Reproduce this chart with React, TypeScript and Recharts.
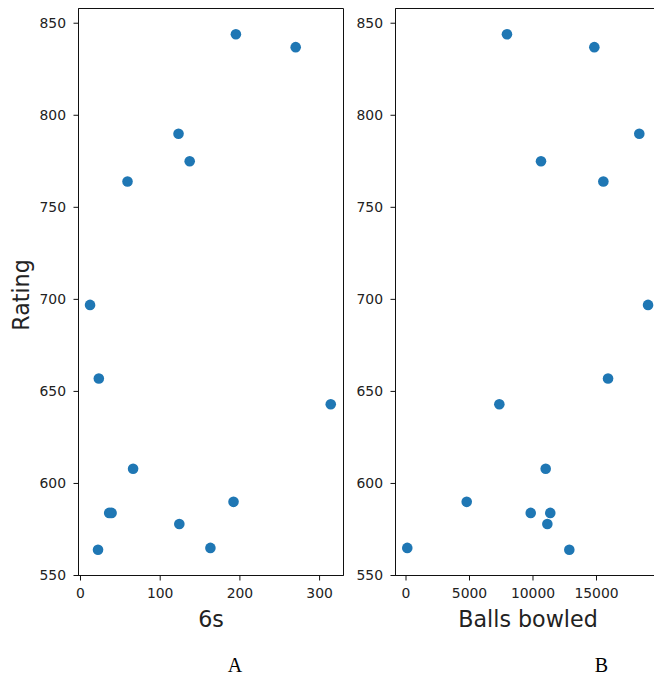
import React from 'react';
import { ScatterChart, Scatter, XAxis, YAxis, ReferenceArea } from 'recharts';

// ---- data ----
const ratings = [844, 837, 790, 775, 764, 697, 657, 643, 608, 590, 584, 584, 578, 565, 564];
const sixes = [195, 270, 123, 137, 59, 12, 23, 314, 66, 192, 36, 39, 124, 163, 22];
const ballsBowled = [7950, 14830, 18370, 10630, 15540, 19060, 15910, 7350, 11000, 4780, 9820, 11360, 11130, 100, 12860];

const ratingTicks = [550, 600, 650, 700, 750, 800, 850];
const sixesTicks = [0, 100, 200, 300];
const ballsTicks = [0, 5000, 10000, 15000];

const panelCaptions = ['A', 'B'];

const sixesData = ratings.map((r, i) => ({ x: sixes[i], y: r }));
const ballsData = ratings.map((r, i) => ({ x: ballsBowled[i], y: r }));

// ---- styling ----
const FONT = 'DejaVu Sans';
const TEXT = '#222';
const LINE = '#111';
const DOT = '#1f77b4';
const tickStyle = { fontSize: 13.9, fontFamily: FONT, fill: TEXT };

const Dot = (p: any) => <circle cx={p.cx} cy={p.cy} r={5.3} fill={DOT} />;

const RatingLabel = () => (
  <text
    x={28.5}
    y={295}
    transform="rotate(-90 28.5 295)"
    textAnchor="middle"
    fontSize={22.2}
    fontFamily={FONT}
    fill={TEXT}
  >
    Rating
  </text>
);

const Y_DOMAIN: [number, number] = [550, 858];

function Panel(props: {
  data: { x: number; y: number }[];
  xDomain: [number, number];
  xTicks: number[];
  xLabel: string;
  width: number;
  yAxisWidth: number;
  marginRight: number;
  left: number;
  showYLabel: boolean;
}) {
  const { data, xDomain, xTicks, xLabel, width, yAxisWidth, marginRight, left, showYLabel } = props;
  return (
    <div style={{ position: 'absolute', left, top: 0 }}>
      <ScatterChart
        width={width}
        height={640}
        margin={{ top: 8.5, right: marginRight, bottom: 0, left: 0 }}
      >
        <XAxis
          dataKey="x"
          type="number"
          domain={xDomain}
          allowDataOverflow
          ticks={xTicks}
          interval={0}
          height={64.5}
          tickSize={5}
          tickMargin={7.5}
          stroke={LINE}
          tickLine={{ stroke: LINE }}
          tick={tickStyle}
          label={{
            value: xLabel,
            position: 'insideBottom',
            offset: 13.5,
            fontSize: 22.2,
            fontFamily: FONT,
            fill: TEXT,
          }}
        />
        <YAxis
          dataKey="y"
          type="number"
          domain={Y_DOMAIN}
          allowDataOverflow
          ticks={ratingTicks}
          interval={0}
          width={yAxisWidth}
          tickSize={5}
          tickMargin={7.5}
          stroke={LINE}
          tickLine={{ stroke: LINE }}
          tick={tickStyle}
          label={showYLabel ? { value: 'Rating', content: RatingLabel } : undefined}
        />
        <ReferenceArea
          x1={xDomain[0]}
          x2={xDomain[1]}
          y1={Y_DOMAIN[0]}
          y2={Y_DOMAIN[1]}
          fill="none"
          fillOpacity={0}
          stroke={LINE}
          strokeWidth={1}
          ifOverflow="visible"
        />
        <Scatter data={data} fill={DOT} shape={Dot} isAnimationActive={false} />
      </ScatterChart>
    </div>
  );
}

export default function App() {
  return (
    <div
      style={{
        position: 'fixed',
        left: 0,
        top: 0,
        width: 654,
        height: 677,
        overflow: 'hidden',
        background: '#fff',
      }}
    >
      <Panel
        data={sixesData}
        xDomain={[-2.5, 330]}
        xTicks={sixesTicks}
        xLabel="6s"
        width={352}
        yAxisWidth={78.5}
        marginRight={8.5}
        left={0}
        showYLabel
      />
      <Panel
        data={ballsData}
        xDomain={[-827, 20040]}
        xTicks={ballsTicks}
        xLabel="Balls bowled"
        width={321}
        yAxisWidth={55.5}
        marginRight={0.5}
        left={340}
        showYLabel={false}
      />
      <svg
        width={654}
        height={677}
        style={{ position: 'absolute', left: 0, top: 0, pointerEvents: 'none' }}
      >
        <text x={235} y={672.3} textAnchor="middle" fontSize={20} fontFamily="Liberation Serif" fill="#000">
          {panelCaptions[0]}
        </text>
        <text x={601.5} y={672.3} textAnchor="middle" fontSize={20} fontFamily="Liberation Serif" fill="#000">
          {panelCaptions[1]}
        </text>
      </svg>
    </div>
  );
}
